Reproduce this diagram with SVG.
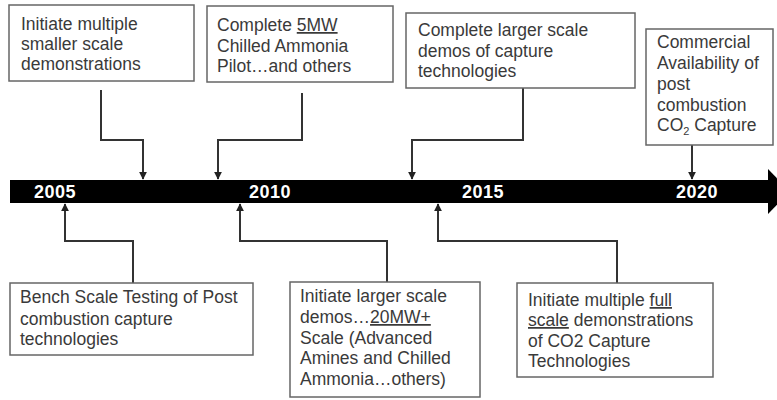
<svg xmlns="http://www.w3.org/2000/svg" width="777" height="400" viewBox="0 0 777 400">
<defs>
<marker id="ah" viewBox="0 0 10 10" refX="9" refY="5" markerWidth="4" markerHeight="4" orient="auto">
<path d="M0,0 L10,5 L0,10 z" fill="#222"/>
</marker>
<style>
.box{fill:#fff;stroke:#666;stroke-width:1.5}
.t{font-family:"Liberation Sans",Arial,sans-serif;font-size:17.5px;fill:#3a3a3a}
.yr{font-family:"Liberation Sans",Arial,sans-serif;font-size:18px;font-weight:bold;fill:#fff;text-anchor:middle;letter-spacing:0.5px}
.c{fill:none;stroke:#333;stroke-width:2;marker-end:url(#ah)}
</style>
</defs>
<rect width="777" height="400" fill="#fff"/>
<g id="timeline">
<rect x="10" y="180" width="762" height="23" fill="#000"/>
<polygon points="768,169 790,191.5 768,214" fill="#000"/>
<text class="yr" x="55" y="198">2005</text>
<text class="yr" x="270" y="198">2010</text>
<text class="yr" x="483" y="198">2015</text>
<text class="yr" x="697" y="198">2020</text>
</g>
<g id="connectors">
<path class="c" d="M101,90 V140 H143 V179"/>
<path class="c" d="M302,93 V140 H218 V179"/>
<path class="c" d="M523,88 V140 H412 V179"/>
<path class="c" d="M692,145 V179"/>
<path class="c" d="M133,283 V241 H65 V204"/>
<path class="c" d="M387,283 V241 H240 V204"/>
<path class="c" d="M617,283 V241 H438 V204"/>
</g>
<g id="n1">
<rect class="box" x="9" y="5" width="185" height="76"/>
<text class="t" x="21" y="30">Initiate multiple</text>
<text class="t" x="21" y="50">smaller scale</text>
<text class="t" x="21" y="70">demonstrations</text>
</g>
<g id="n2">
<rect class="box" x="207" y="6" width="186" height="76"/>
<text class="t" x="217" y="31">Complete <tspan text-decoration="underline">5MW</tspan></text>
<text class="t" x="217" y="52">Chilled Ammonia</text>
<text class="t" x="217" y="72">Pilot…and others</text>
</g>
<g id="n3">
<rect class="box" x="406" y="13" width="229" height="75"/>
<text class="t" x="418" y="36">Complete larger scale</text>
<text class="t" x="418" y="57">demos of capture</text>
<text class="t" x="418" y="77">technologies</text>
</g>
<g id="n4">
<rect class="box" x="646" y="29" width="127" height="116"/>
<text class="t" x="657" y="48">Commercial</text>
<text class="t" x="657" y="69">Availability of</text>
<text class="t" x="657" y="90">post</text>
<text class="t" x="657" y="111">combustion</text>
<text class="t" x="657" y="131">CO<tspan font-size="11" dy="4">2</tspan><tspan dy="-4"> Capture</tspan></text>
</g>
<g id="n5">
<rect class="box" x="10" y="283" width="243" height="72"/>
<text class="t" x="20" y="303">Bench Scale Testing of Post</text>
<text class="t" x="20" y="325">combustion capture</text>
<text class="t" x="20" y="345">technologies</text>
</g>
<g id="n6">
<rect class="box" x="290" y="282" width="190" height="115"/>
<text class="t" x="300" y="302">Initiate larger scale</text>
<text class="t" x="300" y="323">demos…<tspan text-decoration="underline">20MW+</tspan></text>
<text class="t" x="300" y="344">Scale (Advanced</text>
<text class="t" x="300" y="364">Amines and Chilled</text>
<text class="t" x="300" y="385">Ammonia…others)</text>
</g>
<g id="n7">
<rect class="box" x="517" y="283" width="196" height="94"/>
<text class="t" x="528" y="306">Initiate multiple <tspan text-decoration="underline">full</tspan></text>
<text class="t" x="528" y="326"><tspan text-decoration="underline">scale</tspan> demonstrations</text>
<text class="t" x="528" y="347">of CO2 Capture</text>
<text class="t" x="528" y="367">Technologies</text>
</g>
</svg>
